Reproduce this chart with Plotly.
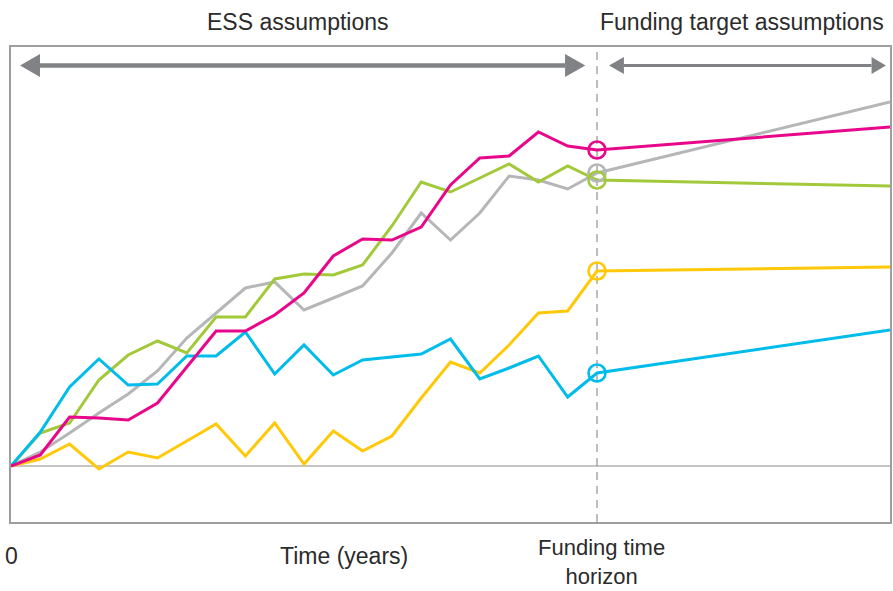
import plotly.graph_objects as go

# time in years (0..20 ESS period, 30 = end of funding target period)
time = [0, 1, 2, 3, 4, 5, 6, 7, 8, 9, 10, 11, 12, 13, 14, 15, 16, 17, 18, 19, 20, 30]

gray_vals = [0, 14, 33, 53, 72, 95, 128, 153, 178, 184, 156, 168, 180, 213, 253, 226, 253, 290, 286, 277, 293, 364]
green_vals = [0, 33, 43, 86, 111, 125, 113, 149, 149, 187, 192, 191, 201, 240, 284, 274, 288, 302, 284, 300, 286, 280]
yellow_vals = [0, 7, 22, -3, 14, 8, 25, 42, 10, 43, 2, 35, 15, 30, 68, 104, 93, 121, 153, 155, 195, 199]
blue_vals = [0, 34, 79, 107, 81, 82, 110, 110, 134, 92, 121, 91, 106, 109, 112, 127, 87, 98, 110, 69, 93, 136]
magenta_vals = [0, 11, 49, 48, 46, 63, 99, 135, 135, 151, 173, 210, 227, 226, 239, 281, 308, 310, 334, 320, 316, 339]

horizon = 20
series = [
    ("gray", gray_vals, "#B5B6B8"),
    ("green", green_vals, "#A2C93A"),
    ("yellow", yellow_vals, "#FFC90A"),
    ("blue", blue_vals, "#00BCEB"),
    ("magenta", magenta_vals, "#E8078A"),
]

top_labels = ["ESS assumptions", "Funding target assumptions"]
bottom_labels = ["0", "Time (years)", "Funding time<br>horizon"]

ARROW = "#808285"
TEXT = "#2B2B2B"

fig = go.Figure()
for name, vals, col in series:
    fig.add_trace(go.Scatter(x=time, y=vals, mode="lines", name=name,
                             line=dict(color=col, width=3), hoverinfo="skip"))
for name, vals, col in series:
    i = time.index(horizon)
    fig.add_trace(go.Scatter(x=[time[i]], y=[vals[i]], mode="markers",
                             marker=dict(symbol="circle-open", size=17,
                                         line=dict(color=col, width=2.6), color=col),
                             hoverinfo="skip"))

shapes = []
# dashed horizon line
shapes.append(dict(type="line", xref="x", yref="paper", x0=horizon, x1=horizon, y0=0, y1=1,
                   line=dict(color="#9A9A9A", width=1.3, dash="8px,6px"), layer="below"))
# zero baseline
shapes.append(dict(type="line", xref="paper", yref="y", x0=0, x1=1, y0=0, y1=0,
                   line=dict(color="#8C8C8C", width=1.2), layer="below"))

def arrow(x_tip_l, x_base_l, x_base_r, x_tip_r, y, half, shaft):
    out = []
    out.append(dict(type="line", xref="x", yref="y", x0=x_base_l, x1=x_base_r, y0=y, y1=y,
                    line=dict(color=ARROW, width=shaft)))
    out.append(dict(type="path", xref="x", yref="y",
                    path=f"M {x_tip_l},{y} L {x_base_l},{y+half} L {x_base_l},{y-half} Z",
                    fillcolor=ARROW, line=dict(width=0)))
    out.append(dict(type="path", xref="x", yref="y",
                    path=f"M {x_tip_r},{y} L {x_base_r},{y+half} L {x_base_r},{y-half} Z",
                    fillcolor=ARROW, line=dict(width=0)))
    return out

shapes += arrow(0.31, 0.99, 18.91, 19.6, 400.5, 11.5, 4.5)
shapes += arrow(20.41, 20.92, 29.37, 29.86, 400.5, 8.5, 3)

annotations = [
    dict(text=top_labels[0], x=9.78, y=1.0526, xref="x", yref="paper", size=23),
    dict(text=top_labels[1], x=24.95, y=1.0526, xref="x", yref="paper", size=23),
    dict(text=bottom_labels[0], x=0.03, y=-0.0716, xref="x", yref="paper", size=23),
    dict(text=bottom_labels[1], x=11.38, y=-0.0716, xref="x", yref="paper", size=23),
    dict(text=bottom_labels[2], x=20.14, y=-0.0842, xref="x", yref="paper", size=22),
]
for a in annotations:
    sz = a.pop("size")
    a.update(showarrow=False, xanchor="center", yanchor="middle",
             font=dict(family="Liberation Sans, Arial, sans-serif", size=sz, color=TEXT))

fig.update_layout(
    width=893, height=591,
    margin=dict(l=11, r=1, t=47, b=69),
    plot_bgcolor="white", paper_bgcolor="white",
    showlegend=False,
    shapes=shapes,
    annotations=annotations,
    xaxis=dict(range=[0, 30], showgrid=False, zeroline=False, showticklabels=False,
               showline=True, mirror=True, linecolor="#9E9E9E", linewidth=1.5, ticks=""),
    yaxis=dict(range=[-56, 419], showgrid=False, zeroline=False, showticklabels=False,
               showline=True, mirror=True, linecolor="#9E9E9E", linewidth=1.5, ticks=""),
)

fig.write_html(
    "out.html",
    config={"displayModeBar": False},
    post_script="document.body.style.margin='0';document.body.style.overflow='hidden';",
)
